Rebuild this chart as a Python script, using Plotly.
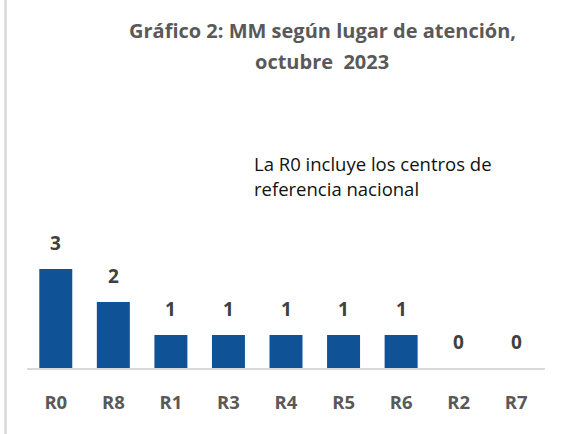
import plotly.graph_objects as go

categories = ["R0", "R8", "R1", "R3", "R4", "R5", "R6", "R2", "R7"]
values = [3, 2, 1, 1, 1, 1, 1, 0, 0]
title_lines = ["Gráfico 2: MM según lugar de atención,", "octubre  2023"]
note_lines = ["La R0 incluye los centros de", "referencia nacional"]

W, H = 564, 434
ML, MR, MT, MB = 27, 19, 104, 66
PW, PH = W - ML - MR, H - MT - MB
FONT = "Open Sans"

def px_x(x):
    return (x - ML) / PW

def px_y(y):
    return (H - MB - y) / PH

fig = go.Figure()
fig.add_trace(go.Bar(
    x=categories, y=values,
    marker=dict(color="#0F5296", line=dict(width=0)),
    hoverinfo="x+y",
))

annotations = []
for c, v in zip(categories, values):
    annotations.append(dict(
        x=c, y=v, xref="x", yref="y", text=str(v), showarrow=False,
        yanchor="middle", yshift=26,
        font=dict(family=FONT, size=19, color="#404040", weight="bold"),
    ))

title_y = [31, 62]
for line, yp in zip(title_lines, title_y):
    annotations.append(dict(
        x=px_x(322), y=px_y(yp), xref="paper", yref="paper", text=line,
        showarrow=False, xanchor="center", yanchor="middle",
        font=dict(family=FONT, size=20, color="#595959", weight="bold"),
    ))

note_y = [163, 188.5]
for line, yp in zip(note_lines, note_y):
    annotations.append(dict(
        x=px_x(252), y=px_y(yp), xref="paper", yref="paper", text=line,
        showarrow=False, xanchor="left", yanchor="middle",
        font=dict(family=FONT, size=18.5, color="#111111"),
    ))

fig.update_layout(
    width=W, height=H,
    margin=dict(l=ML, r=MR, t=MT, b=MB, pad=0),
    paper_bgcolor="white", plot_bgcolor="white",
    showlegend=False,
    bargap=0.427,
    annotations=annotations,
    shapes=[dict(type="line", xref="paper", yref="paper",
                 x0=px_x(5.5), x1=px_x(5.5), y0=px_y(H + 5), y1=px_y(-5),
                 line=dict(color="#d9d9d9", width=2.5))],
    xaxis=dict(
        showgrid=False, zeroline=False,
        showline=True, linecolor="#d9d9d9", linewidth=2,
        ticks="outside", ticklen=17, tickcolor="rgba(0,0,0,0)",
        tickfont=dict(family=FONT, size=18.5, color="#595959", weight="bold"),
    ),
    yaxis=dict(range=[0, 8], visible=False, fixedrange=True),
)

fig.write_html(
    "out.html",
    config={"displayModeBar": False},
    post_script="document.body.style.margin='0';document.body.style.overflow='hidden';",
)
